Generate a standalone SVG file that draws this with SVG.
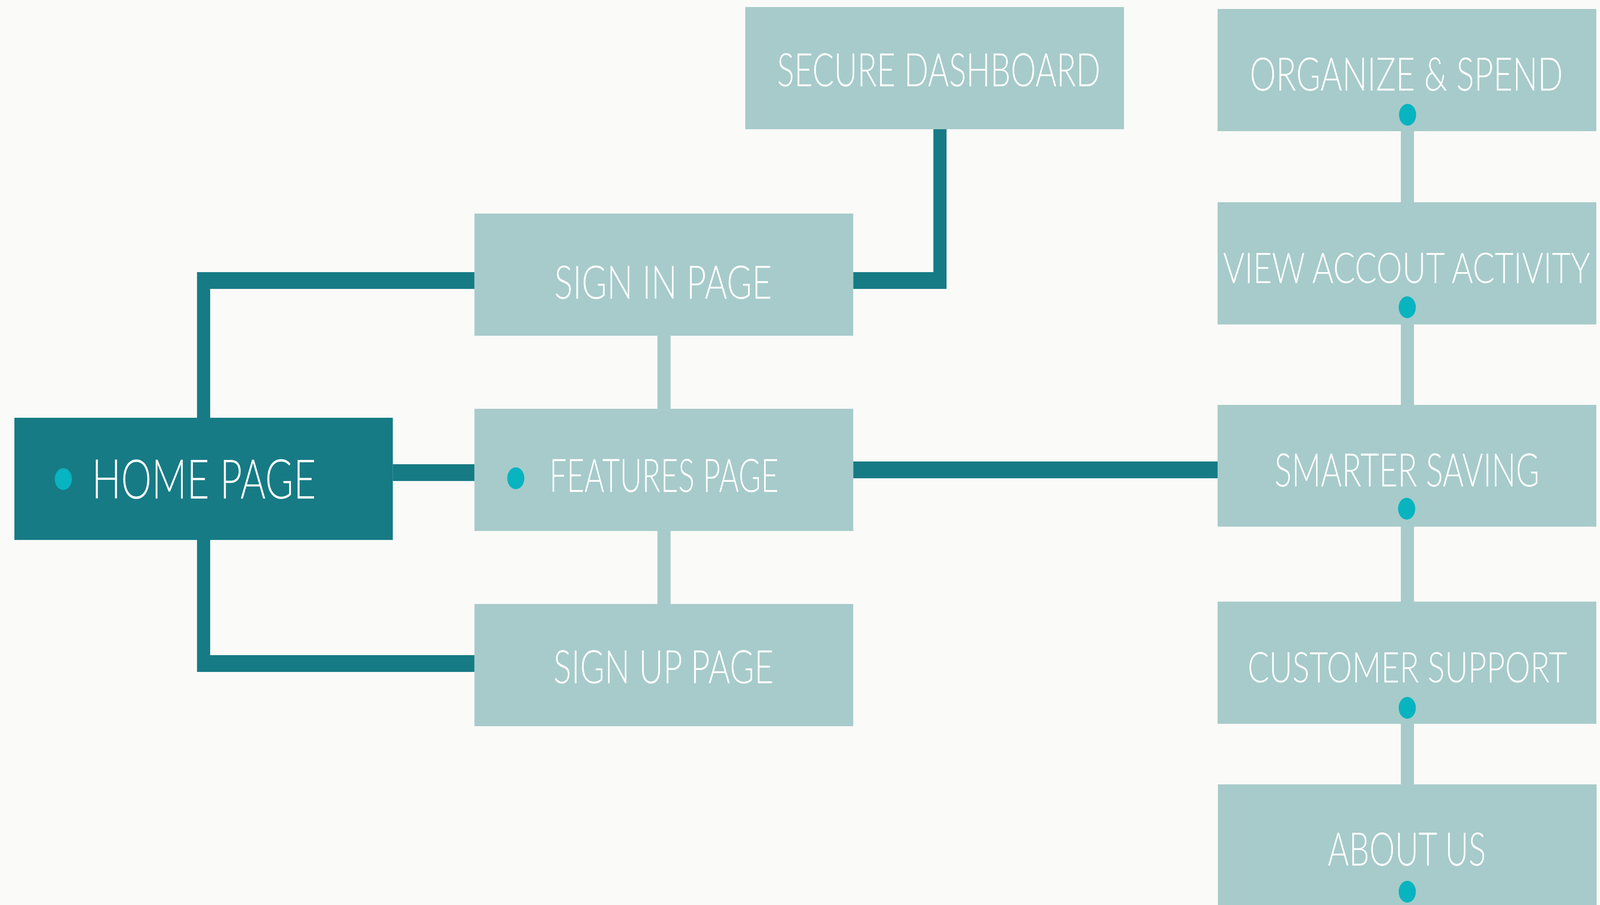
<svg xmlns="http://www.w3.org/2000/svg" width="5230" height="2318" viewBox="0 0 5230 2318" preserveAspectRatio="none">
<style>
svg{width:100vw;height:100vh;background:#FAFAF8}
.bg{fill:#FAFAF8}
.box{fill:#A6CBCA}
.home{fill:#167B85}
.dark{fill:none;stroke:#167B85;stroke-width:43;stroke-linejoin:miter}
.light{fill:none;stroke:#A6CBCA;stroke-width:43}
.dot{fill:#07B4C0}
.t{fill:#FFFFFF;font-family:"Lato","Open Sans","Liberation Sans",sans-serif;font-weight:300;font-size:118px;text-anchor:middle}
.th{font-size:140px}
.ts{font-size:108px}
</style>
<rect class="bg" x="0" y="0" width="5230" height="2318"/>
<g id="connectors">
<path class="dark" d="M665.5 1070 V718.5 H1551"/>
<path class="dark" d="M665.5 1383 V1699.5 H1551"/>
<path class="dark" d="M1284 1210.5 H1551"/>
<path class="dark" d="M2789 718.5 H3072.5 V331"/>
<path class="dark" d="M2789 1203.5 H3980"/>
<path class="light" d="M2170.5 860 V1047"/>
<path class="light" d="M2170.5 1360 V1547"/>
<path class="light" d="M4600.5 336 V518"/>
<path class="light" d="M4600.5 831 V1037"/>
<path class="light" d="M4600.5 1349 V1541"/>
<path class="light" d="M4600.5 1854 V2009"/>
</g>
<g id="home-page">
<rect class="home" x="47" y="1070" width="1237" height="313"/>
<circle class="dot" cx="207" cy="1227" r="28"/>
<text class="t th" x="666.5" y="1277" textLength="733" lengthAdjust="spacingAndGlyphs">HOME PAGE</text>
</g>
<g id="sign-in-page">
<rect class="box" x="1551" y="547" width="1238" height="313"/>
<text class="t" x="2167.5" y="765" textLength="711" lengthAdjust="spacingAndGlyphs">SIGN IN PAGE</text>
</g>
<g id="features-page">
<rect class="box" x="1551" y="1047" width="1238" height="313"/>
<circle class="dot" cx="1686" cy="1225" r="28"/>
<text class="t" x="2170.5" y="1260" textLength="749" lengthAdjust="spacingAndGlyphs">FEATURES PAGE</text>
</g>
<g id="sign-up-page">
<rect class="box" x="1551" y="1547" width="1238" height="313"/>
<text class="t" x="2169" y="1750" textLength="720" lengthAdjust="spacingAndGlyphs">SIGN UP PAGE</text>
</g>
<g id="secure-dashboard">
<rect class="box" x="2436" y="18" width="1238" height="313"/>
<text class="t" x="3068.5" y="221" textLength="1057" lengthAdjust="spacingAndGlyphs">SECURE DASHBOARD</text>
</g>
<g id="organize-spend">
<rect class="box" x="3980" y="23" width="1238" height="313"/>
<circle class="dot" cx="4601" cy="294" r="28"/>
<text class="t" x="4597" y="232" textLength="1024" lengthAdjust="spacingAndGlyphs">ORGANIZE &amp; SPEND</text>
</g>
<g id="view-account-activity">
<rect class="box" x="3980" y="518" width="1238" height="313"/>
<circle class="dot" cx="4600" cy="787" r="28"/>
<text class="t ts" x="4598" y="725" textLength="1200" lengthAdjust="spacingAndGlyphs">VIEW ACCOUT ACTIVITY</text>
</g>
<g id="smarter-saving">
<rect class="box" x="3980" y="1037" width="1238" height="312"/>
<circle class="dot" cx="4598" cy="1303" r="28"/>
<text class="t" x="4599" y="1246" textLength="866" lengthAdjust="spacingAndGlyphs">SMARTER SAVING</text>
</g>
<g id="customer-support">
<rect class="box" x="3980" y="1541" width="1238" height="313"/>
<circle class="dot" cx="4600" cy="1813" r="28"/>
<text class="t ts" x="4600.5" y="1748" textLength="1045" lengthAdjust="spacingAndGlyphs">CUSTOMER SUPPORT</text>
</g>
<g id="about-us">
<rect class="box" x="3981" y="2009" width="1238" height="313"/>
<circle class="dot" cx="4600" cy="2284" r="28"/>
<text class="t" x="4598.5" y="2217" textLength="517" lengthAdjust="spacingAndGlyphs">ABOUT US</text>
</g>
</svg>
